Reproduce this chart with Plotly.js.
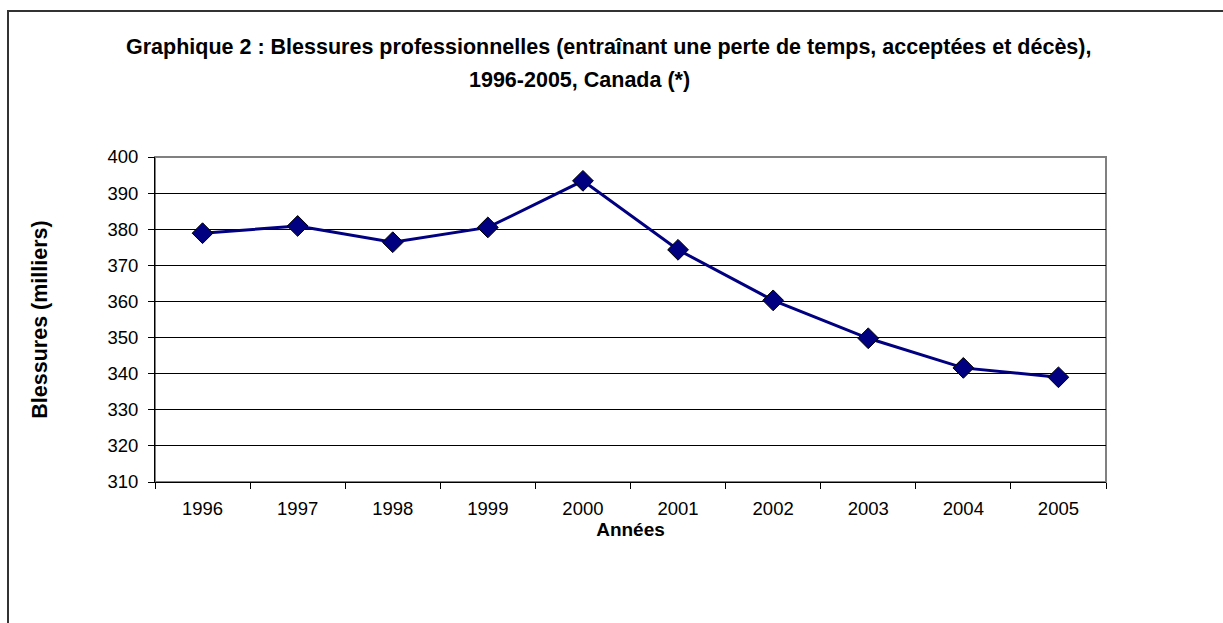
<!DOCTYPE html>
<html>
<head>
<meta charset="utf-8">
<script src="https://cdn.plot.ly/plotly-3.0.1.min.js"></script>
<style>
  html, body { margin: 0; padding: 0; background: #fff; }
  #chart { width: 1223px; height: 623px; }
</style>
</head>
<body>
<div id="chart"></div>
<script>
// Years and injuries (thousands).
const years = ['1996', '1997', '1998', '1999', '2000', '2001', '2002', '2003', '2004', '2005'];
const injuries = [378.9, 380.9, 376.4, 380.5, 393.4, 374.3, 360.3, 349.8, 341.6, 339.0];
const titleLines = [
  'Graphique 2 : Blessures professionnelles (entraînant une perte de temps, acceptées et décès),',
  '1996-2005, Canada (*)',
];

// Plot area in pixels.
const W = 1223, H = 623;
const plotL = 155, plotR = 1106, plotT = 157, plotB = 482;
const pw = plotR - plotL, ph = plotB - plotT;
const px = (x) => (x - plotL) / pw;
const py = (y) => (plotB - y) / ph;

const font = 'Liberation Sans, Arial, sans-serif';

const trace = {
  x: years,
  y: injuries,
  type: 'scatter',
  mode: 'lines+markers',
  line: {color: '#000080', width: 3},
  marker: {symbol: 'diamond', size: 16, color: '#000080', line: {color: '#000000', width: 1}},
  hoverinfo: 'x+y',
};

const layout = {
  width: W,
  height: H,
  margin: {l: plotL, r: W - plotR, t: plotT, b: H - plotB},
  paper_bgcolor: '#ffffff',
  plot_bgcolor: '#ffffff',
  showlegend: false,
  font: {family: font, color: '#000000', size: 18},
  xaxis: {
    type: 'category',
    range: [-0.5, years.length - 0.5],
    tickson: 'boundaries',
    ticks: 'outside',
    ticklen: 6,
    tickcolor: '#000000',
    showline: true,
    linecolor: '#000000',
    linewidth: 1,
    showgrid: false,
    zeroline: false,
    ticklabelstandoff: 10,
    tickfont: {size: 18.5},
    title: {text: '<b>Années</b>', font: {size: 19}, standoff: 4},
    fixedrange: true,
  },
  yaxis: {
    range: [310, 400],
    dtick: 10,
    tick0: 310,
    ticks: 'outside',
    ticklen: 6,
    tickcolor: '#000000',
    showline: true,
    linecolor: '#000000',
    linewidth: 1,
    showgrid: true,
    gridcolor: '#000000',
    gridwidth: 1,
    zeroline: false,
    ticklabelstandoff: 6,
    tickfont: {size: 18.5},
    title: {text: '<b>Blessures (milliers)</b>', font: {size: 21.5}, standoff: 53},
    fixedrange: true,
  },
  shapes: [
    // grey plot-area frame (top and right)
    {type: 'rect', xref: 'paper', yref: 'paper', x0: 0, x1: 1, y0: 0, y1: 1,
      line: {color: '#808080', width: 2}, layer: 'below'},
    // outer chart border
    {type: 'rect', xref: 'paper', yref: 'paper',
      x0: px(8), x1: px(1240), y0: py(640), y1: py(11),
      line: {color: '#333333', width: 2}},
  ],
  annotations: [
    {text: '<b>' + titleLines[0] + '</b>', xref: 'paper', yref: 'paper',
      x: px(608), y: py(47), xanchor: 'center', yanchor: 'middle', showarrow: false,
      font: {size: 21.5}},
    {text: '<b>' + titleLines[1] + '</b>', xref: 'paper', yref: 'paper',
      x: px(579), y: py(80), xanchor: 'center', yanchor: 'middle', showarrow: false,
      font: {size: 21.5}},
  ],
};

Plotly.newPlot('chart', [trace], layout, {displayModeBar: false, staticPlot: true});
</script>
</body>
</html>
